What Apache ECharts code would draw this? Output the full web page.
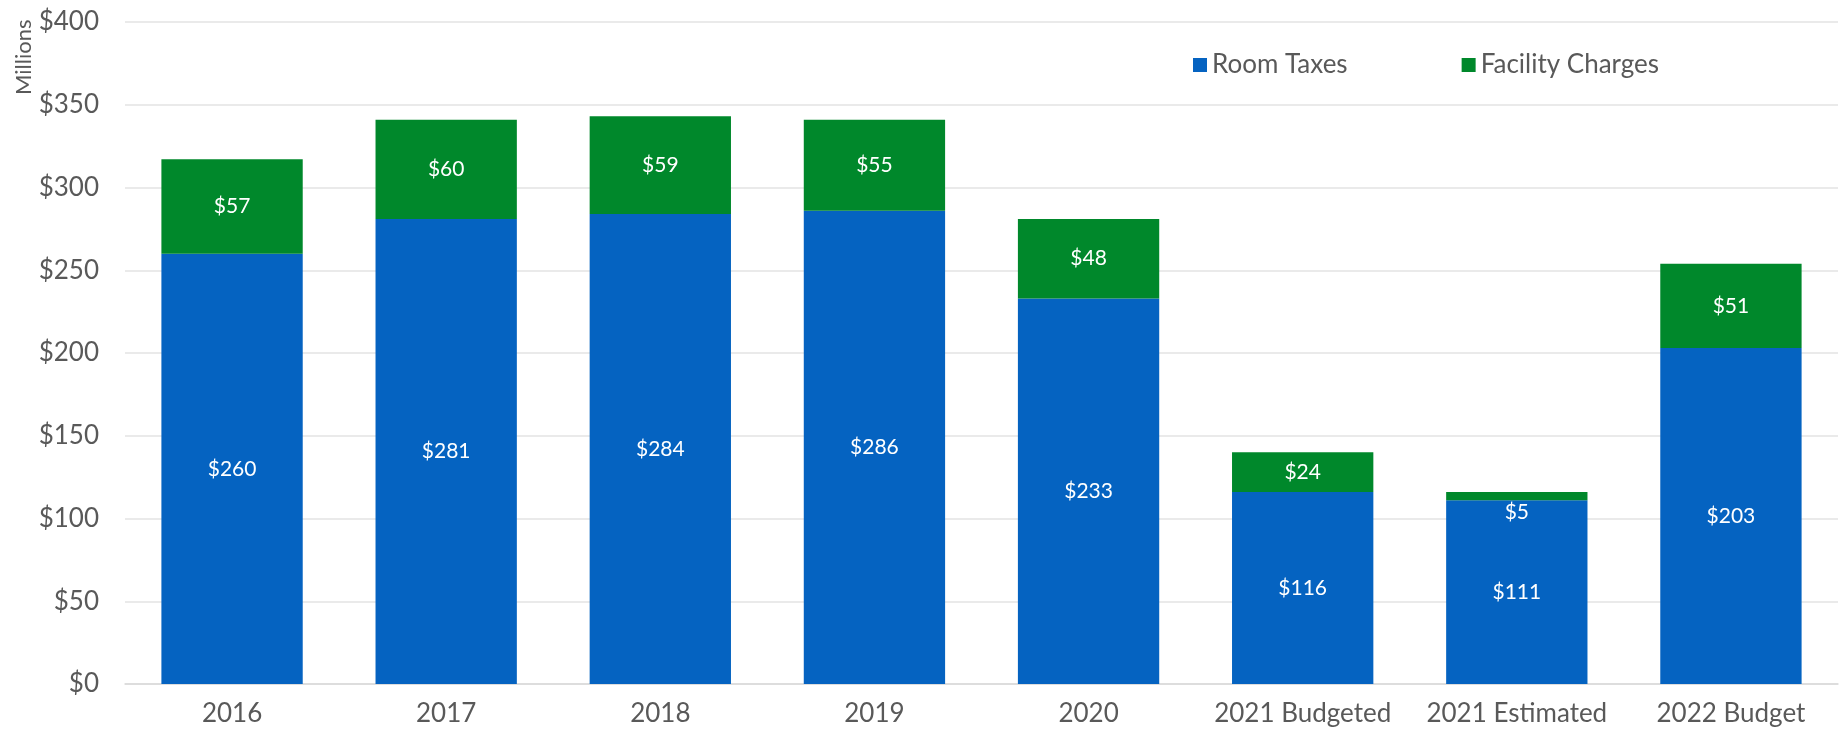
<!DOCTYPE html>
<html>
<head>
<meta charset="utf-8">
<script src="https://cdn.jsdelivr.net/npm/echarts@6/dist/echarts.min.js"></script>
<style>
  html, body { margin: 0; padding: 0; background: #fff; }
  #chart { width: 1843px; height: 737px; }
</style>
</head>
<body>
<div id="chart"></div>
<script>
const categories = ["2016", "2017", "2018", "2019", "2020", "2021 Budgeted", "2021 Estimated", "2022 Budget"];
const roomTaxes = [260, 281, 284, 286, 233, 116, 111, 203];
const facilityCharges = [57, 60, 59, 55, 48, 24, 5, 51];
const yTicks = [0, 50, 100, 150, 200, 250, 300, 350, 400];

const FONT = '"Century Gothic", Lato, sans-serif';
const TEXT = "#595959";

const chart = echarts.init(document.getElementById("chart"));

// the tiny $5 slice gets its label pushed below the bar, like the original
const facilityData = facilityCharges.map((v) =>
    v < 10 ? { value: v, label: { position: "bottom", distance: 1 } } : v
);

const barLabel = {
    show: true,
    position: "inside",
    color: "#fff",
    fontSize: 21,
    fontFamily: FONT,
    formatter: (p) => "$" + p.value,
};

const option = {
    animation: false,
    textStyle: { fontFamily: FONT },
    grid: { left: 125, right: 5, top: 22, bottom: 53 },
    legend: {
        top: 47,
        left: 1188,
        itemWidth: 14,
        itemHeight: 14,
        itemGap: 114,
        icon: "rect",
        textStyle: { fontSize: 26, color: TEXT, fontFamily: FONT },
        data: ["Room Taxes", "Facility Charges"],
    },
    graphic: [
        {
            type: "text",
            x: 13,
            y: 95,
            rotation: Math.PI / 2,
            style: {
                text: "Millions",
                fontSize: 22,
                fill: TEXT,
                fontFamily: FONT,
                align: "left",
                verticalAlign: "top",
            },
        },
    ],
    xAxis: {
        type: "category",
        data: categories,
        axisTick: { show: false },
        axisLine: { lineStyle: { color: "#d9d9d9", width: 1.5 } },
        axisLabel: { interval: 0, fontSize: 26, color: TEXT, margin: 17, fontFamily: FONT },
    },
    yAxis: {
        type: "value",
        min: yTicks[0],
        max: yTicks[yTicks.length - 1],
        interval: 50,
        axisLabel: {
            fontSize: 26,
            color: TEXT,
            margin: 26,
            fontFamily: FONT,
            formatter: (v) => "$" + v,
        },
        splitLine: { lineStyle: { color: "#e3e3e3", width: 1.5 } },
    },
    series: [
        {
            name: "Room Taxes",
            type: "bar",
            stack: "total",
            barWidth: "66%",
            data: roomTaxes,
            itemStyle: { color: "#0563C1" },
            label: barLabel,
        },
        {
            name: "Facility Charges",
            type: "bar",
            stack: "total",
            data: facilityData,
            itemStyle: { color: "#00882B" },
            label: barLabel,
        },
    ],
};

chart.setOption(option);
</script>
</body>
</html>
